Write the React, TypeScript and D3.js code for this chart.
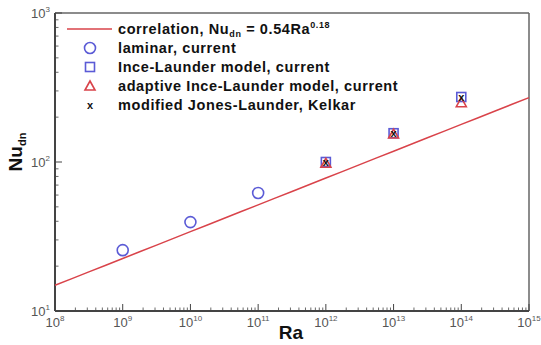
import React from "react";
import * as d3 from "d3";

const laminarRa = [1e9, 1e10, 1e11];
const laminarNu = [25.6, 39.5, 62];
const turbRa = [1e12, 1e13, 1e14];
const inceNu = [100, 156, 273];
const adaptiveNu = [98, 154, 250];
const jonesNu = [100, 156, 273];
const corrCoef = 0.54;
const corrExp = 0.18;
const xTickExps = [8, 9, 10, 11, 12, 13, 14, 15];
const yTickExps = [1, 2, 3];

const W = 541, H = 345;
const L = 55, R = 529, T = 13, B = 311;

export default function App() {
  const x = d3.scaleLog().domain([1e8, 1e15]).range([L, R]);
  const y = d3.scaleLog().domain([10, 1000]).range([B, T]);

  const corrPts = d3.range(8, 15.01, 0.25).map((e) => [Math.pow(10, e), corrCoef * Math.pow(10, e * corrExp)]);
  const line = d3.line<number[]>().x((d) => x(d[0])).y((d) => y(d[1]));

  const xMinor: number[] = [];
  for (let e = 8; e < 15; e++) for (let k = 2; k <= 9; k++) xMinor.push(k * Math.pow(10, e));
  const yMinor: number[] = [];
  for (let e = 1; e < 3; e++) for (let k = 2; k <= 9; k++) yMinor.push(k * Math.pow(10, e));

  const blue = "#5b5bd6";
  const red = "#d9434a";
  const axisCol = "#444";
  const font = "Liberation Sans, Arial, sans-serif";

  const circle = (cx: number, cy: number, key: string) => (
    <circle key={key} cx={cx} cy={cy} r={5.5} fill="none" stroke={blue} strokeWidth={1.6} />
  );
  const square = (cx: number, cy: number, key: string) => (
    <rect key={key} x={cx - 4.5} y={cy - 4.5} width={9} height={9} fill="none" stroke={blue} strokeWidth={1.6} />
  );
  const tri = (cx: number, cy: number, key: string) => (
    <path key={key} d={`M${cx},${cy - 5} L${cx + 5},${cy + 4} L${cx - 5},${cy + 4} Z`} fill="none" stroke={red} strokeWidth={1.6} />
  );
  const cross = (cx: number, cy: number, key: string) => (
    <text key={key} x={cx} y={cy + 3.5} textAnchor="middle" fontSize={11} fontWeight="bold" fill="#111" fontFamily={font}>x</text>
  );

  const legendX = 118;
  const legendRows = [29, 48, 67, 86, 105];
  const mx = 90;

  return (
    <svg width={W} height={H} style={{ position: "absolute", left: 0, top: 0, background: "#fff" }} fontFamily={font}>
      <rect x={0} y={0} width={W} height={H} fill="#fff" />
      {/* frame */}
      <line x1={L} y1={T} x2={R} y2={T} stroke="#666" strokeWidth={1.5} />
      <line x1={R} y1={T} x2={R} y2={B} stroke="#666" strokeWidth={1.5} />
      <line x1={L} y1={B} x2={R} y2={B} stroke={axisCol} strokeWidth={2} />
      <line x1={L} y1={T} x2={L} y2={B} stroke={axisCol} strokeWidth={2} />
      {/* x ticks */}
      {xTickExps.map((e) => (
        <line key={"xt" + e} x1={x(Math.pow(10, e))} x2={x(Math.pow(10, e))} y1={B} y2={B - 7} stroke={axisCol} strokeWidth={1} />
      ))}
      {xMinor.map((v, i) => (
        <line key={"xm" + i} x1={x(v)} x2={x(v)} y1={B} y2={B - 3.5} stroke={axisCol} strokeWidth={0.8} />
      ))}
      {yTickExps.map((e) => (
        <line key={"yt" + e} x1={L} x2={L + 7} y1={y(Math.pow(10, e))} y2={y(Math.pow(10, e))} stroke={axisCol} strokeWidth={1} />
      ))}
      {yMinor.map((v, i) => (
        <line key={"ym" + i} x1={L} x2={L + 3.5} y1={y(v)} y2={y(v)} stroke={axisCol} strokeWidth={0.8} />
      ))}
      {/* x tick labels */}
      {xTickExps.map((e) => (
        <text key={"xl" + e} x={x(Math.pow(10, e))} y={B + 16} textAnchor="middle" fontSize={13} fill="#555">
          10<tspan fontSize={8} dy={-6}>{e}</tspan>
        </text>
      ))}
      {yTickExps.map((e) => (
        <text key={"yl" + e} x={L - 5} y={y(Math.pow(10, e)) + 5} textAnchor="end" fontSize={13} fill="#555">
          10<tspan fontSize={8} dy={-6}>{e}</tspan>
        </text>
      ))}
      {/* axis titles */}
      <text x={291} y={339} textAnchor="middle" fontSize={19} fontWeight="bold" fill="#111">Ra</text>
      <text transform={`translate(22, 152) rotate(-90)`} textAnchor="middle" fontSize={19} fontWeight="bold" fill="#111">
        Nu<tspan fontSize={11} dy={4}>dn</tspan>
      </text>
      {/* correlation line */}
      <path d={line(corrPts) || ""} fill="none" stroke={red} strokeWidth={1.5} />
      {/* data */}
      {laminarRa.map((r, i) => circle(x(r), y(laminarNu[i]), "c" + i))}
      {turbRa.map((r, i) => square(x(r), y(inceNu[i]), "s" + i))}
      {turbRa.map((r, i) => tri(x(r), y(adaptiveNu[i]), "t" + i))}
      {turbRa.map((r, i) => cross(x(r), y(jonesNu[i]), "x" + i))}
      {/* legend */}
      <line x1={67} x2={112} y1={legendRows[0]} y2={legendRows[0]} stroke={red} strokeWidth={1.5} />
      {circle(mx, legendRows[1], "lc")}
      {square(mx, legendRows[2], "ls")}
      {tri(mx, legendRows[3], "lt")}
      {cross(mx, legendRows[4], "lx")}
      <g fontSize={14.5} fontWeight="bold" fill="#111" letterSpacing={0.6}>
        <text x={legendX} y={legendRows[0] + 5}>
          correlation, Nu<tspan fontSize={9} dy={3}>dn</tspan><tspan dy={-3}> = 0.54Ra</tspan><tspan fontSize={9} dy={-6}>0.18</tspan>
        </text>
        <text x={legendX} y={legendRows[1] + 5}>laminar, current</text>
        <text x={legendX} y={legendRows[2] + 5}>Ince-Launder model, current</text>
        <text x={legendX} y={legendRows[3] + 5}>adaptive Ince-Launder model, current</text>
        <text x={legendX} y={legendRows[4] + 5}>modified Jones-Launder, Kelkar</text>
      </g>
    </svg>
  );
}
